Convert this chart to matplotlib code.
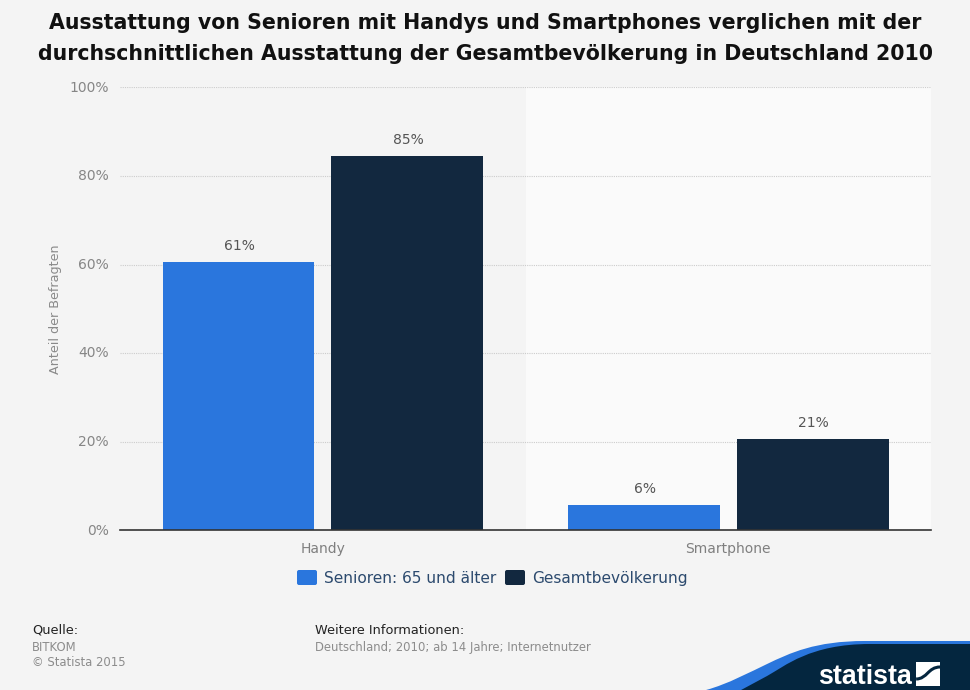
import numpy as np
import matplotlib
matplotlib.use("Agg")
import matplotlib.pyplot as plt
from matplotlib.patches import PathPatch, Rectangle, FancyBboxPatch
from matplotlib.path import Path

categories = ["Handy", "Smartphone"]
senioren = [60.7, 5.8]
gesamt = [84.5, 20.6]
senioren_labels = ["61%", "6%"]
gesamt_labels = ["85%", "21%"]
series_names = ["Senioren: 65 und älter", "Gesamtbevölkerung"]
y_ticks = [0, 20, 40, 60, 80, 100]

BLUE = "#2a76dd"
NAVY = "#12283f"
LOGO_NAVY = "#04263f"
BG = "#f4f4f4"
W, H = 970, 690


def px(x, y):
    # pixel position of the reference to figure fraction
    return x / W, 1 - y / H


fig = plt.figure(figsize=((W + 0.1) / 100, (H + 0.1) / 100), dpi=100, facecolor=BG)
ax = fig.add_axes([120 / W, 1 - 530.5 / H, 811 / W, 443 / H], facecolor=BG)

ax.axvspan(0.5, 1.5, color="#fafafa", lw=0, zorder=0)
ax.set_xlim(-0.5, 1.5)
ax.set_ylim(0, 100)

x = np.arange(len(categories))
offset, width = 0.208, 0.374
bars1 = ax.bar(x - offset, senioren, width, color=BLUE, zorder=3)
bars2 = ax.bar(x + offset, gesamt, width, color=NAVY, zorder=3)

for bars, labels in ((bars1, senioren_labels), (bars2, gesamt_labels)):
    for b, lab in zip(bars, labels):
        ax.annotate(lab, (b.get_x() + b.get_width() / 2 + 0.002, b.get_height()),
                    xytext=(0, 9), textcoords="offset pixels", ha="center", va="bottom",
                    fontsize=10, color="#555555", zorder=4)

ax.set_yticks(y_ticks)
ax.set_yticklabels([f"{t}%" for t in y_ticks], fontsize=10, color="#868686", va="center")
ax.set_xticks(x)
ax.set_xticklabels(categories, fontsize=10, color="#7f7f7f")
ax.tick_params(axis="x", length=0, pad=8)
ax.tick_params(axis="y", length=0, pad=8)

ax.grid(axis="y", color="#cccccc", lw=0.8, ls=(0, (1, 1)), zorder=1)
ax.set_axisbelow(True)
for side in ("top", "right", "left"):
    ax.spines[side].set_visible(False)
ax.spines["bottom"].set_color("#333333")
ax.spines["bottom"].set_linewidth(1.2)
ax.spines["bottom"].set_zorder(5)

fig.text(*px(55, 309), "Anteil der Befragten", rotation=90, ha="center", va="center",
         fontsize=9.15, color="#8a8a8a")

fig.text(*px(485, 23), "Ausstattung von Senioren mit Handys und Smartphones verglichen mit der",
         ha="center", va="center", fontsize=14.8, fontweight="bold", color="#111111")
fig.text(*px(485, 54), "durchschnittlichen Ausstattung der Gesamtbevölkerung in Deutschland 2010",
         ha="center", va="center", fontsize=14.8, fontweight="bold", color="#111111")

# legend, placed by hand like the reference
for (x0, col, name, tx) in ((297, BLUE, series_names[0], 324), (505, NAVY, series_names[1], 532)):
    fig.patches.append(FancyBboxPatch((x0 + 2, H - 583), 16, 11, boxstyle="round,pad=2",
                                      transform=None, facecolor=col, edgecolor="none"))
    fig.text(*px(tx, 578), name, ha="left", va="center", fontsize=11.1, color="#2c4a6e")

# source and info block
fig.text(*px(32, 630), "Quelle:", ha="left", va="center", fontsize=9.3, color="#222222")
fig.text(*px(32, 647), "BITKOM", ha="left", va="center", fontsize=8.35, color="#8c8c8c")
fig.text(*px(32, 662), "© Statista 2015", ha="left", va="center", fontsize=8.35, color="#8c8c8c")
fig.text(*px(315, 630), "Weitere Informationen:", ha="left", va="center", fontsize=9.3, color="#222222")
fig.text(*px(315, 647), "Deutschland; 2010; ab 14 Jahre; Internetnutzer", ha="left", va="center",
         fontsize=8.35, color="#8c8c8c")

# logo swoosh
logo = fig.add_axes([0, 0, 1, 1], facecolor="none")
logo.set_xlim(0, W)
logo.set_ylim(H, 0)
logo.axis("off")

codes = [Path.MOVETO, Path.CURVE4, Path.CURVE4, Path.CURVE4,
         Path.CURVE4, Path.CURVE4, Path.CURVE4, Path.LINETO,
         Path.LINETO, Path.CLOSEPOLY]
blue_verts = [(706, 690), (728, 684), (750, 672), (767, 664),
              (790, 653), (815, 641), (865, 641), (970, 641),
              (970, 690), (706, 690)]
navy_verts = [(741, 690), (750, 685), (758, 681), (767, 676),
              (785, 666), (810, 644), (870, 644), (970, 644),
              (970, 690), (741, 690)]
logo.add_patch(PathPatch(Path(blue_verts, codes), facecolor=BLUE, edgecolor="none"))
logo.add_patch(PathPatch(Path(navy_verts, codes), facecolor=LOGO_NAVY, edgecolor="none"))
logo.text(818, 684, "statista", ha="left", va="baseline", color="white", fontsize=19.3,
          fontweight="bold", family=["Liberation Sans Narrow", "Liberation Sans"])
logo.add_patch(Rectangle((916, 662), 24, 24.5, facecolor="white", edgecolor="none"))
s_curve = Path([(916, 679), (927, 679), (928, 667), (940, 667)],
               [Path.MOVETO, Path.CURVE4, Path.CURVE4, Path.CURVE4])
logo.add_patch(PathPatch(s_curve, facecolor="none", edgecolor=LOGO_NAVY, lw=2.2))

fig.savefig("out.png", dpi=100, facecolor=BG)
